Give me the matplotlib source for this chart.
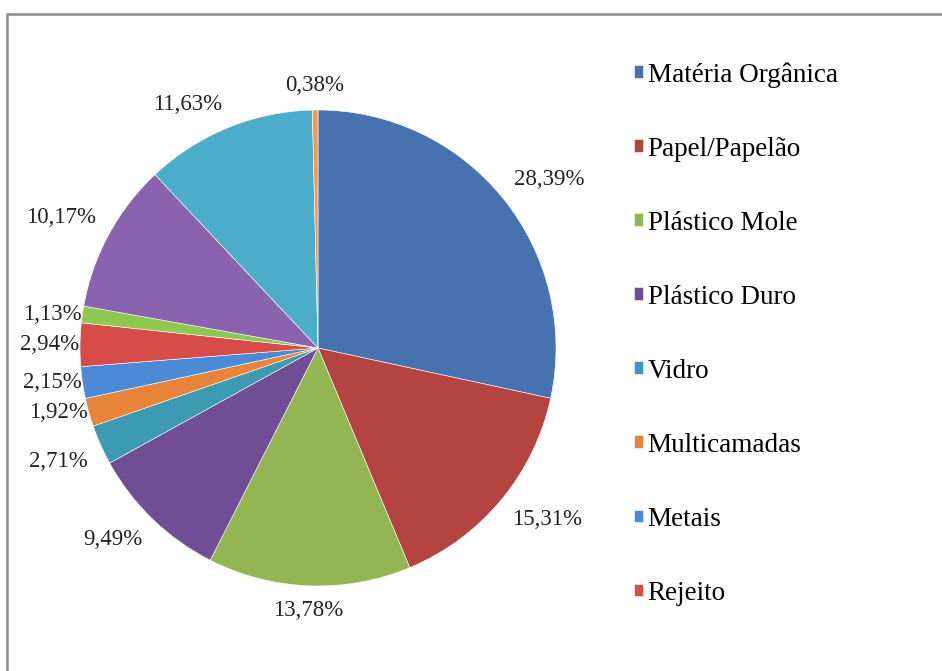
import numpy as np
import matplotlib
matplotlib.use('Agg')
import matplotlib.pyplot as plt
from matplotlib.patches import Rectangle

plt.rcParams['font.family'] = ['Liberation Serif', 'DejaVu Serif']

# only the first 8 categories are visible in the legend of the original
categories = ['Matéria Orgânica', 'Papel/Papelão', 'Plástico Mole', 'Plástico Duro',
              'Vidro', 'Multicamadas', 'Metais', 'Rejeito']
values = [28.39, 15.31, 13.78, 9.49, 2.71, 1.92, 2.15, 2.94, 1.13, 10.17, 11.63, 0.38]
colors = ['#4672B0', '#B5433F', '#93B552', '#6F4E96', '#3D9AB2', '#E7843A',
          '#4A8AD6', '#D64C48', '#8DC850', '#8A62AD', '#4BADC9', '#F49A4A']

fig = plt.figure(figsize=(9.42, 6.71), dpi=100)
ax = fig.add_axes([318/942 - 238/942, 1 - 348/671 - 238/671, 476/942, 476/671])

wedges, _ = ax.pie(values, colors=colors, startangle=90, counterclock=False,
                   wedgeprops=dict(edgecolor='white', linewidth=0.4))
ax.set_xlim(-1, 1)
ax.set_ylim(-1, 1)
ax.set_aspect('equal')

# percent labels just outside each slice
for w, v in zip(wedges, values):
    ang = np.deg2rad((w.theta1 + w.theta2) / 2)
    c, s = np.cos(ang), np.sin(ang)
    r = 1.06
    if c > 0.3:
        ha = 'left'
    elif c < -0.3:
        ha = 'right'
    else:
        ha = 'center'
    if s > 0.3:
        va = 'bottom'
    elif s < -0.3:
        va = 'top'
    else:
        va = 'center'
        r = 1.005
    ax.text(r * c, r * s, ('%.2f%%' % v).replace('.', ','), ha=ha, va=va,
            fontsize=16.5, color='#222222', clip_on=False)

fig.legend(wedges[:len(categories)], categories, loc='upper left',
           bbox_to_anchor=(634/942, 1 - 62/671), frameon=False, fontsize=19.5,
           handlelength=0.35, handleheight=0.35, handletextpad=0.15,
           labelspacing=1.81, borderpad=0, borderaxespad=0)

fig.patches.append(Rectangle((7/942, -0.1), 1.1, 1.1 - 14/671, transform=fig.transFigure,
                             fill=False, edgecolor='#8a8a8a', linewidth=1.8))

fig.savefig('out.png', dpi=100)
